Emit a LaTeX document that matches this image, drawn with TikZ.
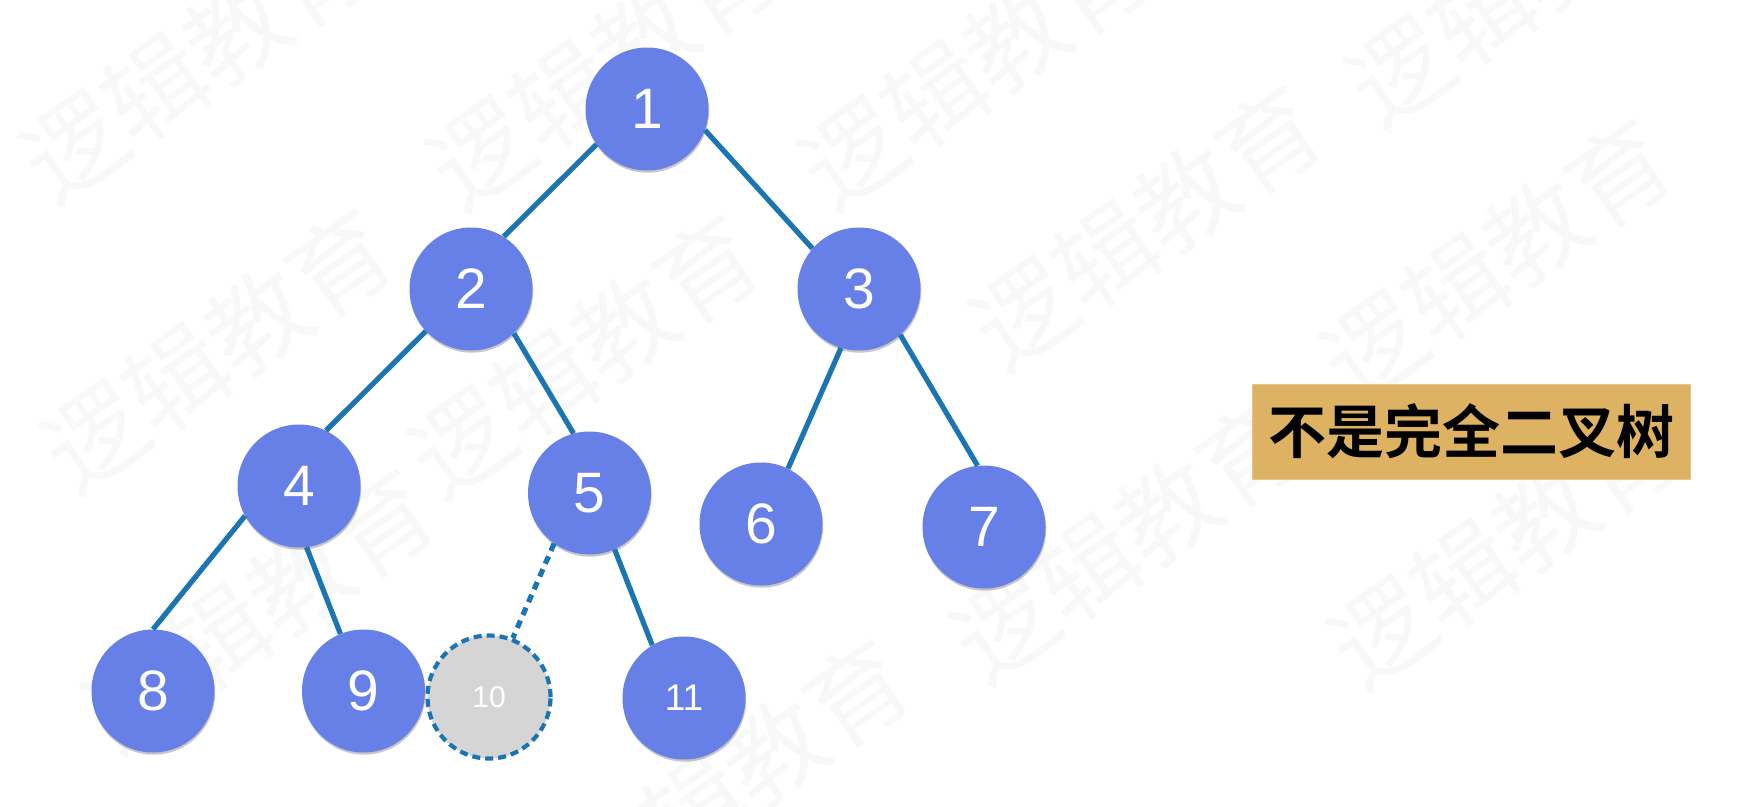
\documentclass[tikz,border=0pt]{standalone}
\usepackage{fontspec}
\setmainfont{Liberation Sans}
\newfontfamily\cjk{Noto Sans CJK SC}
\newfontfamily\cjkbold{Noto Sans CJK SC Bold}
\usetikzlibrary{shadows}
\definecolor{nodefill}{HTML}{6780E8}
\definecolor{edgeblue}{HTML}{1A75B2}
\definecolor{ghostfill}{HTML}{D5D5D5}
\definecolor{labelfill}{HTML}{DDB263}
\definecolor{wmark}{HTML}{F8F8F8}
\begin{document}
\begin{tikzpicture}[x=1pt,y=-1pt,
  treenode/.style={circle, fill=nodefill, minimum size=123pt, inner sep=0pt,
    text=white, font=\fontsize{57}{60}\selectfont,
    drop shadow={shadow xshift=0.6pt, shadow yshift=-2.2pt, opacity=0.22, fill=black}},
  ghostnode/.style={circle, fill=ghostfill, draw=edgeblue, line width=4.2pt,
    dash pattern=on 8pt off 5pt, minimum size=123pt, inner sep=0pt,
    text=white, font=\fontsize{30}{34}\selectfont},
  smallnum/.style={font=\fontsize{37}{40}\selectfont},
  edge/.style={draw=edgeblue, line width=5.2pt},
  ghostedge/.style={edge, dash pattern=on 8pt off 6pt},
  wm/.style={text=wmark, font=\cjk\fontsize{100}{100}\selectfont, rotate=35, inner sep=0pt},
  labelbox/.style={rectangle, fill=labelfill, draw=labelfill!75!white, line width=1pt,
    minimum width=438pt, minimum height=95pt, inner sep=0pt,
    font=\cjkbold\fontsize{58}{60}\selectfont, text=black}
]
\fill[white] (0,0) rectangle (1740,806);
\useasboundingbox (0,0) rectangle (1740,806);
% watermark
\begin{scope}
\clip (0,0) rectangle (1740,806);
\foreach \px/\py [count=\i] in {196/60, 603/67, 975/67, 1522/-15,
   217/350, 584/356, 1146/227, 1496/260,
   259/610, 734/780, 1127/540, 1504/546}
  \node[wm] (wm\i) at (\px,\py) {逻辑教育};
\end{scope}
% tree nodes
\node[treenode] (n1) at (647,109) {1};
\node[treenode] (n2) at (471,289) {2};
\node[treenode] (n3) at (859,289) {3};
\node[treenode] (n4) at (299,486) {4};
\node[treenode] (n5) at (589.5,493) {5};
\node[treenode] (n6) at (761,524) {6};
\node[treenode] (n7) at (984,527) {7};
\node[treenode] (n8) at (153,691) {8};
\node[treenode] (n9) at (363.5,691) {9};
\node[ghostnode] (n10) at (489,697) {10};
\node[treenode, smallnum] (n11) at (684,698) {11};
% edges
\draw[edge] (n1.-145) -- (n2.58);
\draw[edge] (n1.-20) -- (n3.139);
\draw[edge] (n2.-137) -- (n4.64);
\draw[edge] (n2.-46) -- (n5.105);
\draw[edge] (n3.-107) -- (n6.64);
\draw[edge] (n3.-48) -- (n7.96);
\draw[edge] (n4.-151) -- (n8.90);
\draw[edge] (n4.-83) -- (n9.112);
\draw[ghostedge] (n5.-125) -- (n10.68);
\draw[edge] (n5.-66) -- (n11.121);
% label
\node[labelbox] (lbl) at (1471,431.5) {不是完全二叉树};
\end{tikzpicture}
\end{document}
